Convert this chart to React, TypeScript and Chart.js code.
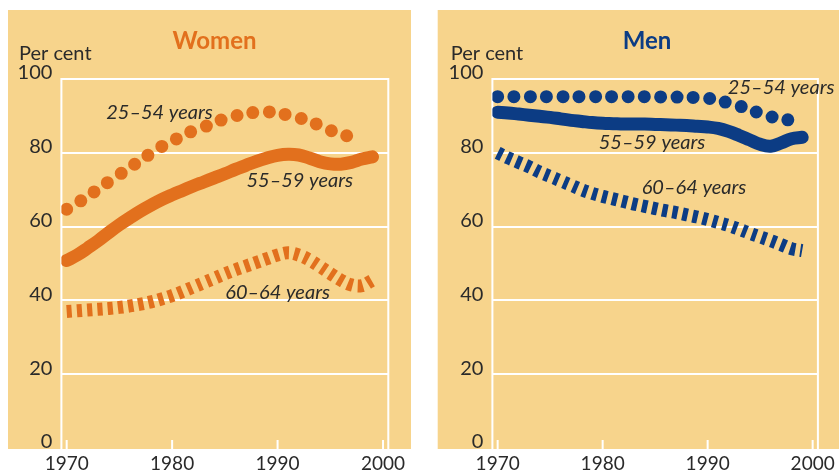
import React, { useEffect, useRef } from 'react';
import { Chart, registerables } from 'chart.js';

Chart.register(...registerables);

const years = [1970, 1971, 1972, 1973, 1974, 1975, 1976, 1977, 1978, 1979, 1980, 1981, 1982, 1983, 1984, 1985, 1986, 1987, 1988, 1989, 1990, 1991, 1992, 1993, 1994, 1995, 1996, 1997, 1998, 1999];

const women2554 = [64.7, 66.3, 68.4, 70.1, 72.2, 74.1, 76.1, 77.9, 79.9, 81.7, 83.2, 84.6, 86.0, 87.0, 88.0, 89.3, 90.0, 90.6, 91.0, 91.1, 90.8, 90.2, 89.5, 88.6, 87.4, 86.1, 85.1, 84.3, 83.7, null];
const women5559 = [50.8, 52.3, 54.2, 56.2, 58.4, 60.5, 62.4, 64.2, 65.8, 67.3, 68.6, 69.8, 71.0, 72.1, 73.2, 74.3, 75.5, 76.6, 77.7, 78.6, 79.3, 79.6, 79.4, 78.6, 77.6, 77.0, 76.9, 77.4, 78.3, 78.9];
const women6064 = [37.0, 37.2, 37.4, 37.6, 37.8, 38.1, 38.5, 39.0, 39.6, 40.4, 41.3, 42.4, 43.6, 44.8, 46.0, 47.2, 48.3, 49.3, 50.3, 51.3, 52.3, 52.9, 52.3, 51.0, 49.2, 47.3, 45.5, 44.2, 44.0, 45.5];

const men2554 = [95.2, 95.2, 95.2, 95.2, 95.2, 95.2, 95.2, 95.2, 95.2, 95.2, 95.2, 95.2, 95.2, 95.2, 95.2, 95.2, 95.1, 95.1, 95.0, 95.0, 94.8, 94.2, 93.5, 92.7, 91.7, 90.7, 89.8, 89.2, 88.8, null];
const men5559 = [91.0, 90.8, 90.5, 90.2, 89.9, 89.6, 89.2, 88.8, 88.5, 88.2, 88.0, 87.9, 87.8, 87.8, 87.8, 87.7, 87.6, 87.5, 87.4, 87.2, 87.0, 86.6, 85.8, 84.7, 83.5, 82.3, 81.8, 82.7, 83.8, 84.2];
const men6064 = [80.0, 78.6, 77.4, 76.2, 74.8, 73.6, 72.4, 71.2, 70.0, 69.0, 68.2, 67.5, 66.8, 66.1, 65.5, 64.9, 64.3, 63.8, 63.2, 62.6, 61.9, 61.1, 60.3, 59.3, 58.2, 57.2, 56.2, 55.1, 54.0, 53.5];

const seriesNames = ['25–54 years', '55–59 years', '60–64 years'];

// label anchors in data coordinates (year, per cent)
const womenLabelYears = [1978.8, 1992.1, 1990.0];
const womenLabelValues = [90.8, 72.4, 42.0];
const menLabelYears = [1997.0, 1984.7, 1988.7];
const menLabelValues = [97.8, 82.7, 70.7];

const xTicks = [1970, 1980, 1990, 2000];
const yTicks = [0, 20, 40, 60, 80, 100];

const BG = '#F7D48C';
const TEXT = '#2a2a2a';
const ORANGE = '#E2701D';
const NAVY = '#0C3C84';
const FONT = 'Lato, "Open Sans", sans-serif';

const toPoints = (arr: (number | null)[]) =>
  years.map((yr, i) => ({ x: yr, y: arr[i] })).filter((p) => p.y !== null);

const panelPlugin = {
  id: 'panelDeco',
  beforeDraw(chart: any, _args: any, opts: any) {
    const ctx = chart.ctx;
    ctx.save();
    ctx.fillStyle = BG;
    ctx.fillRect(opts.bgLeft, 10, opts.bgRight - opts.bgLeft, 439);
    ctx.fillStyle = opts.titleColor;
    ctx.font = 'bold 24px ' + FONT;
    ctx.textAlign = 'center';
    ctx.textBaseline = 'alphabetic';
    ctx.fillText(opts.title, opts.titleX, 49);
    ctx.fillStyle = TEXT;
    ctx.font = '20px ' + FONT;
    ctx.textAlign = 'left';
    ctx.fillText('Per cent', opts.perCentX, 60);
    ctx.restore();
  },
  beforeDatasetsDraw(chart: any) {
    const { ctx, chartArea: ca } = chart;
    const x = chart.scales.x;
    ctx.save();
    ctx.strokeStyle = '#ffffff';
    ctx.lineWidth = 2;
    ctx.beginPath();
    ctx.moveTo(ca.left, ca.top - 1);
    ctx.lineTo(ca.left, 449);
    ctx.moveTo(ca.right, ca.top - 1);
    ctx.lineTo(ca.right, 449);
    for (const t of xTicks) {
      const px = x.getPixelForValue(t);
      ctx.moveTo(px, 440);
      ctx.lineTo(px, 449);
    }
    ctx.stroke();
    ctx.restore();
  },
  afterDatasetsDraw(chart: any, _args: any, opts: any) {
    const ctx = chart.ctx;
    const x = chart.scales.x;
    const y = chart.scales.y;
    ctx.save();
    ctx.fillStyle = TEXT;
    ctx.font = 'italic 20px ' + FONT;
    ctx.textAlign = 'center';
    ctx.textBaseline = 'middle';
    opts.labels.forEach((l: any) => {
      ctx.fillText(l.text, x.getPixelForValue(l.x), y.getPixelForValue(l.y));
    });
    ctx.restore();
  },
};

type PanelProps = {
  left: number;
  width: number;
  caLeft: number;
  caRight: number;
  bgLeft: number;
  bgRight: number;
  title: string;
  titleX: number;
  titleColor: string;
  perCentX: number;
  color: string;
  data: (number | null)[][];
  labelYears: number[];
  labelValues: number[];
};

function Panel(p: PanelProps) {
  const ref = useRef<HTMLCanvasElement | null>(null);
  useEffect(() => {
    if (!ref.current) return;
    const height = 473;
    const chart = new Chart(ref.current, {
      type: 'line',
      data: {
        datasets: [
          {
            data: toPoints(p.data[0]) as any,
            borderColor: p.color,
            borderWidth: 13,
            borderCapStyle: 'round',
            borderDash: [0, 16.3],
            pointRadius: 0,
            tension: 0.4,
            fill: false,
          },
          {
            data: toPoints(p.data[1]) as any,
            borderColor: p.color,
            borderWidth: 13,
            borderCapStyle: 'round',
            borderJoinStyle: 'round',
            pointRadius: 0,
            tension: 0.4,
            fill: false,
          },
          {
            data: toPoints(p.data[2]) as any,
            borderColor: p.color,
            borderWidth: 13,
            borderCapStyle: 'butt',
            borderDash: [5, 5.3],
            pointRadius: 0,
            tension: 0.4,
            fill: false,
          },
        ],
      },
      options: {
        animation: false,
        responsive: false,
        events: [],
        layout: { padding: { left: 0, right: p.width - p.caRight, top: 79, bottom: 0 } },
        plugins: {
          legend: { display: false },
          tooltip: { enabled: false },
          title: { display: false },
          panelDeco: {
            bgLeft: p.bgLeft,
            bgRight: p.bgRight,
            title: p.title,
            titleX: p.titleX,
            titleColor: p.titleColor,
            perCentX: p.perCentX,
            labels: seriesNames.map((t, i) => ({ text: t, x: p.labelYears[i], y: p.labelValues[i] })),
          },
        } as any,
        scales: {
          x: {
            type: 'linear',
            min: 1969.5,
            max: 2000.5,
            afterBuildTicks: (axis: any) => {
              axis.ticks = xTicks.map((v) => ({ value: v }));
            },
            afterFit: (s: any) => {
              s.height = height - 448;
            },
            grid: { display: false, drawTicks: false },
            border: { display: false },
            ticks: {
              padding: 4,
              color: TEXT,
              font: { family: FONT, size: 19 },
              maxRotation: 0,
              autoSkip: false,
              callback: (v: any) => String(v),
            },
          },
          y: {
            type: 'linear',
            min: 0,
            max: 100,
            afterBuildTicks: (axis: any) => {
              axis.ticks = yTicks.map((v) => ({ value: v }));
            },
            afterFit: (s: any) => {
              s.width = p.caLeft;
            },
            grid: {
              drawTicks: false,
              lineWidth: 2,
              color: (c: any) => (c.tick && c.tick.value === 0 ? 'rgba(0,0,0,0)' : '#ffffff'),
            },
            border: { display: false },
            ticks: {
              padding: 9,
              labelOffset: -6,
              color: TEXT,
              font: { family: FONT, size: 20 },
              callback: (v: any) => String(v),
            },
          },
        },
      },
      plugins: [panelPlugin as any],
    });
    return () => chart.destroy();
  }, []);
  return (
    <div style={{ position: 'absolute', left: p.left, top: 0, width: p.width, height: 473 }}>
      <canvas ref={ref} width={p.width} height={473} style={{ display: 'block', width: p.width, height: 473 }} />
    </div>
  );
}

export default function App() {
  return (
    <div style={{ position: 'fixed', left: 0, top: 0, width: 839, height: 473, background: '#ffffff', overflow: 'hidden' }}>
      <Panel
        left={0}
        width={420}
        caLeft={61.4}
        caRight={388.3}
        bgLeft={8}
        bgRight={411}
        title="Women"
        titleX={214.5}
        titleColor={ORANGE}
        perCentX={19}
        color={ORANGE}
        data={[women2554, women5559, women6064]}
        labelYears={womenLabelYears}
        labelValues={womenLabelValues}
      />
      <Panel
        left={420}
        width={419}
        caLeft={72.4}
        caRight={399.6}
        bgLeft={17.7}
        bgRight={419}
        title="Men"
        titleX={227}
        titleColor={NAVY}
        perCentX={30.7}
        color={NAVY}
        data={[men2554, men5559, men6064]}
        labelYears={menLabelYears}
        labelValues={menLabelValues}
      />
    </div>
  );
}
